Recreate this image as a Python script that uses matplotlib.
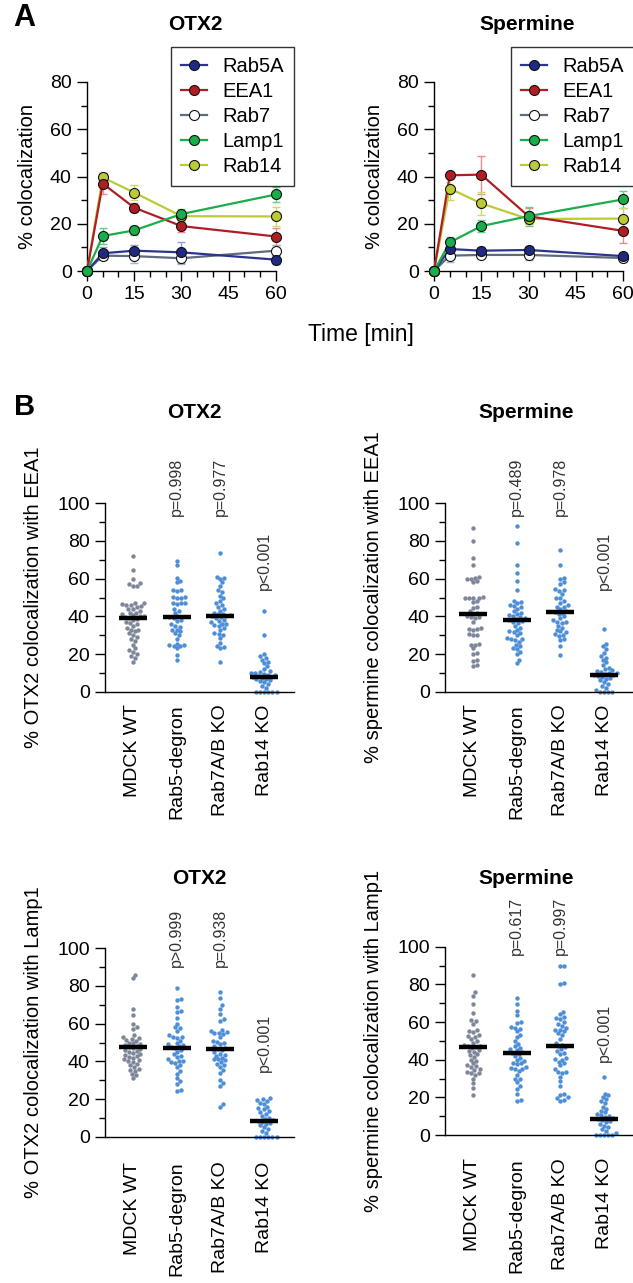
import numpy as np
import matplotlib.pyplot as plt
from matplotlib.lines import Line2D
from matplotlib.ticker import MultipleLocator

plt.rcParams.update({
    "font.family": ["Liberation Sans", "DejaVu Sans"],
    "axes.linewidth": 1.0,
    "xtick.major.width": 1.0,
    "ytick.major.width": 1.0,
    "xtick.minor.width": 1.0,
    "ytick.minor.width": 1.0,
})

# ── Panel A data: mean % colocalization over time ──────────────────────────
time_min = [0, 5, 15, 30, 60]
markers = ["Rab5A", "EEA1", "Rab7", "Lamp1", "Rab14"]

otx2_mean = [
    [0, 7.5, 8.6, 7.9, 4.8],
    [0, 37.0, 26.8, 19.0, 14.6],
    [0, 6.5, 6.3, 5.4, 8.6],
    [0, 14.8, 17.2, 24.1, 32.4],
    [0, 39.6, 33.2, 23.2, 23.1],
]
otx2_err = [
    [0, 2.5, 2.5, 4.5, 2.0],
    [0, 4.5, 2.0, 2.5, 3.5],
    [0, 2.0, 2.8, 2.5, 2.5],
    [0, 3.5, 2.0, 2.0, 3.0],
    [0, 2.0, 3.0, 2.0, 4.0],
]
spermine_mean = [
    [0, 9.3, 8.6, 8.9, 6.3],
    [0, 40.5, 40.8, 23.2, 17.0],
    [0, 6.5, 6.8, 6.8, 5.5],
    [0, 12.1, 19.0, 23.2, 30.3],
    [0, 34.9, 28.6, 22.0, 22.2],
]
spermine_err = [
    [0, 3.0, 1.5, 1.5, 1.5],
    [0, 1.0, 8.0, 3.5, 5.0],
    [0, 2.5, 1.5, 2.0, 1.5],
    [0, 2.5, 2.5, 4.0, 3.5],
    [0, 5.0, 5.0, 2.0, 4.5],
]

line_colors = ["#2b3590", "#b01e24", "#5d6b7c", "#1aad4b", "#bccb35"]
face_colors = ["#1f2b80", "#b01e24", "#ffffff", "#1aad4b", "#bccb35"]
err_colors = ["#8f9fd6", "#f08a8f", "#a9b2c0", "#66cf86", "#cdd96a"]

# ── Panel B data: per-cell % colocalization ───────────────────────────────
groups = ["MDCK WT", "Rab5-degron", "Rab7A/B KO", "Rab14 KO"]

otx2_eea1 = [
    [72, 64.5, 60, 57.5, 57, 56, 56, 47, 47, 46.5, 46, 46, 45.5, 45, 44, 44,
     43, 42, 42, 41, 40.5, 40, 40, 39.5, 39, 38.5, 38, 37, 36.5, 36, 35, 34,
     33, 33, 32, 31, 30, 29, 28, 27, 25, 23, 22, 21, 20, 19, 18, 16],
    [69.5, 67, 60.5, 59, 58, 54, 54, 53.5, 50.5, 50.5, 50, 50, 47, 47, 47,
     46.5, 44, 43, 42, 40, 39.5, 39, 38, 37.5, 36, 35, 34.5, 33, 32.5, 32, 31,
     30, 28, 25.5, 25, 25, 24.5, 24, 23, 19.5, 17],
    [73.5, 61, 60.5, 60, 58, 56, 54, 53, 51, 49.5, 48, 47, 46, 45, 44, 43, 42,
     41.5, 41, 40.5, 40, 40, 39.5, 39, 38, 37.5, 37, 36, 36, 35.5, 35, 34, 33,
     31, 30.5, 30, 28.5, 26, 24, 23.5, 23, 15.5],
    [43, 30, 20, 19, 18, 17, 16, 15, 13.5, 12, 11, 10.5, 10, 10, 9.5, 9, 9,
     8.5, 8, 8, 7.5, 7, 6.5, 6, 5.5, 5, 4, 3, 2, 0, 0, 0, 0, 0, 0],
]
otx2_eea1_bar = [39.3, 39.8, 40.0, 7.9]
otx2_eea1_p = ["", "p=0.998", "p=0.977", "p<0.001"]

spermine_eea1 = [
    [87, 80, 71, 67, 61, 60.5, 60, 60, 58.5, 58, 50.5, 50, 50, 50, 50, 48,
     47.5, 45, 44.5, 43, 42, 41.5, 40, 39.5, 39.5, 39, 37, 34, 33.5, 33.5, 33,
     30.5, 30, 30, 25.5, 25, 25, 23, 20.5, 20, 17, 16.5, 14, 13.5],
    [88, 79, 67, 63, 58.5, 54, 48, 47.5, 47, 46, 45.5, 45, 44, 43, 42, 41.5,
     40.5, 40, 39.5, 39, 38.5, 38, 37.5, 37, 36.5, 35, 34, 33, 32, 31.5, 31,
     30, 28.5, 28, 28, 27.5, 26.5, 25, 24, 23, 22.5, 21, 20, 17, 15],
    [75, 67, 60.5, 60, 58, 57, 54.5, 54, 53.5, 52, 50, 50, 48, 47, 46, 45, 45,
     44, 43, 42.5, 42, 41, 40, 39, 38, 37, 37, 36.5, 35, 34, 33, 32, 31.5,
     30.5, 30, 29.5, 28, 27.5, 24.5, 19.5],
    [33.5, 25.5, 24, 22.5, 20.5, 19, 18, 17, 15.5, 14, 12.5, 12, 11.5, 11,
     10.5, 10, 10, 9.5, 9, 9, 8.5, 8, 7.5, 7, 6, 5, 4, 3, 2, 1, 0, 0, 0, 0],
]
spermine_eea1_bar = [41.5, 38.0, 42.5, 9.0]
spermine_eea1_p = ["", "p=0.489", "p=0.978", "p<0.001"]

otx2_lamp1 = [
    [86, 84, 68, 64.5, 60, 58, 57, 54, 53, 52.5, 52, 51.5, 51, 50, 49.5, 49,
     48.5, 48, 47.5, 47, 46.5, 46, 45.5, 45, 44.5, 44, 43.5, 43, 42.5, 42, 41,
     40.5, 40, 39.5, 38.5, 38, 37, 36, 35.5, 35, 33.5, 32.5, 31],
    [79, 73, 72.5, 69, 66.5, 66, 63, 60, 58, 57.5, 56, 54, 53, 53, 52.5, 51,
     50, 49, 48.5, 48, 47.5, 47, 46, 45, 44, 43, 42.5, 41, 40, 40, 39.5, 39,
     38, 37, 35, 33.5, 31, 29.5, 28, 25, 24.5],
    [77, 73.5, 70, 68, 65, 62.5, 61.5, 56.5, 56, 55.5, 55, 55, 54.5, 53, 51,
     50.5, 50, 49, 48, 47, 46.5, 46, 45, 44, 43.5, 43, 42, 41, 41, 40.5, 39.5,
     38.5, 38, 37, 35.5, 34, 30, 28.5, 27, 17.5, 16],
    [20.5, 20, 19.5, 19, 18, 17.5, 16, 15, 14.5, 13.5, 13, 12, 11, 10, 9.5,
     9, 8.5, 8, 7.5, 7, 6, 5, 4, 3, 2, 0, 0, 0, 0, 0, 0],
]
otx2_lamp1_bar = [47.5, 47.0, 46.5, 8.5]
otx2_lamp1_p = ["", "p>0.999", "p=0.938", "p<0.001"]

spermine_lamp1 = [
    [85, 76, 74, 69.5, 65, 61, 60.5, 59, 55.5, 55, 54.5, 53, 52.5, 52, 51, 50,
     49, 48, 47.5, 47, 46.5, 46, 45, 44.5, 44, 43, 42.5, 41.5, 40, 39.5, 38,
     37, 36.5, 36, 35, 34.5, 33.5, 33, 33, 32, 30, 27.5, 25, 21.5],
    [73, 69.5, 66, 63.5, 60, 59.5, 57.5, 57, 56.5, 55, 53, 52, 50, 48.5, 47,
     46, 45.5, 45, 44, 43.5, 43, 42, 41, 40, 39.5, 38.5, 38, 37.5, 36, 35.5,
     35, 35, 34, 32, 30, 29.5, 28, 26, 24.5, 22, 18.5, 18],
    [90, 89.5, 80.5, 80, 65.5, 64, 62.5, 62, 61.5, 60, 59, 58, 57, 56, 55.5,
     55, 54, 53, 51, 49, 48, 47, 46.5, 45.5, 44.5, 43.5, 43, 41, 40.5, 40, 39,
     38, 37, 35, 33.5, 33.5, 33, 31, 28.5, 26, 22, 21.5, 20, 19.5, 18.5, 18],
    [31, 22, 21, 20, 19, 18, 17, 15, 14, 13, 12, 11, 10.5, 10, 9.5, 9, 8.5,
     8, 7.5, 7, 6, 5, 4, 3, 2, 1, 0, 0, 0, 0, 0],
]
spermine_lamp1_bar = [46.5, 43.5, 47.0, 8.5]
spermine_lamp1_p = ["", "p=0.617", "p=0.997", "p<0.001"]

W, H = 633, 1283
fig = plt.figure(figsize=(W / 100, H / 100), dpi=100)


def add_axes_px(left, top, right, bottom):
    return fig.add_axes([left / W, 1 - bottom / H, (right - left) / W,
                         (bottom - top) / H])


def fig_text(x, y, s, **kw):
    fig.text(x / W, 1 - y / H, s, **kw)


def swarm_offsets(vals, sx, sy, d):
    # simple beeswarm: place points (low to high) as close to centre as possible
    vals = np.asarray(vals, float)
    xs = np.zeros(len(vals))
    placed = []
    for i in np.argsort(vals, kind="stable"):
        y = vals[i] * sy
        cands = [0.0]
        for px, py in placed:
            dy = y - py
            if abs(dy) < d:
                dx = np.sqrt(d * d - dy * dy)
                cands += [px + dx, px - dx]
        cands.sort(key=abs)
        for c in cands:
            if all((c - px) ** 2 + (y - py) ** 2 >= d * d - 1e-6
                   for px, py in placed):
                xs[i] = c
                placed.append((c, y))
                break
    return xs / sx


# ── Panel A ──────────────────────────────────────────────────────────────
panel_a = [
    ("OTX2", otx2_mean, otx2_err, (87, 82, 276, 271), (195, 25), 171),
    ("Spermine", spermine_mean, spermine_err, (434, 82, 623, 271), (527, 25), 511),
]
for title, means, errs, box, tpos, leg_x in panel_a:
    ax = add_axes_px(*box)
    for k in range(len(markers)):
        ax.errorbar(time_min, means[k], yerr=errs[k], fmt="none",
                    ecolor=err_colors[k], elinewidth=1.0, capsize=3,
                    capthick=1.0, zorder=2, clip_on=False)
    for k in [4, 2, 0, 1, 3]:
        ax.plot(time_min, means[k], color=line_colors[k], lw=1.6, zorder=3,
                clip_on=False)
        ax.plot(time_min, means[k], ls="none", marker="o", ms=7.2,
                mfc=face_colors[k], mec="#111111", mew=0.8, zorder=4,
                clip_on=False)
    ax.set_xlim(0, 60)
    ax.set_ylim(0, 80)
    ax.xaxis.set_major_locator(MultipleLocator(15))
    ax.xaxis.set_minor_locator(MultipleLocator(5))
    ax.yaxis.set_major_locator(MultipleLocator(20))
    ax.yaxis.set_minor_locator(MultipleLocator(10))
    ax.tick_params(which="major", length=7, labelsize=14, pad=4)
    ax.tick_params(which="minor", length=4)
    for sp in ["top", "right"]:
        ax.spines[sp].set_visible(False)
    ax.set_ylabel("% colocalization", fontsize=14.5, labelpad=9)
    fig_text(*tpos, title, ha="center", va="center", fontsize=15,
             fontweight="bold")
    handles = [Line2D([0], [0], color=line_colors[k], lw=1.6, marker="o",
                      ms=7.2, mfc=face_colors[k], mec="#111111", mew=0.8)
               for k in range(len(markers))]
    leg = ax.legend(handles, markers, loc="upper left",
                    bbox_to_anchor=(leg_x / W, 1 - 47 / H),
                    bbox_transform=fig.transFigure, frameon=True,
                    fancybox=False, edgecolor="black", fontsize=14.5,
                    handlelength=1.3, handletextpad=0.75, labelspacing=0.3,
                    borderpad=0.5, borderaxespad=0)
    leg.get_frame().set_linewidth(1.0)

fig_text(361, 334, "Time [min]", ha="center", va="center", fontsize=16.5)
fig_text(24, 18, "A", ha="center", va="center", fontsize=22, fontweight="bold")
fig_text(25, 407, "B", ha="center", va="center", fontsize=21, fontweight="bold")

# ── Panel B ──────────────────────────────────────────────────────────────
panel_b = [
    ("OTX2", "% OTX2 colocalization with EEA1", otx2_eea1, otx2_eea1_bar,
     otx2_eea1_p, (105, 503.3, 294, 691.7), (194, 413), [0, 93, 93, 54], 9),
    ("Spermine", "% spermine colocalization with EEA1", spermine_eea1,
     spermine_eea1_bar, spermine_eea1_p, (445, 503.3, 633, 691.7), (526, 413),
     [0, 93, 93, 54], 9),
    ("OTX2", "% OTX2 colocalization with Lamp1", otx2_lamp1, otx2_lamp1_bar,
     otx2_lamp1_p, (105, 948.3, 294, 1136.7), (199, 878), [0, 90, 90, 34.5], 18),
    ("Spermine", "% spermine colocalization with Lamp1", spermine_lamp1,
     spermine_lamp1_bar, spermine_lamp1_p, (445, 946.7, 633, 1135), (526, 878),
     [0, 95.5, 95.5, 39], 16.5),
]
dot_colors = ["#7d8799", "#4d8fd6", "#4d8fd6", "#4d8fd6"]

for title, ylab, data, bars, pvals, box, tpos, p_y, xpad in panel_b:
    ax = add_axes_px(*box)
    x0 = -0.64
    x1 = x0 + (box[2] - box[0]) / 43.7
    ax.set_xlim(x0, x1)
    ax.set_ylim(0, 100)
    sx = 43.7
    sy = (box[3] - box[1]) / 100.0
    for g, vals in enumerate(data):
        off = swarm_offsets(vals, sx, sy, 4.2)
        ax.scatter(g + off, vals, s=10, color=dot_colors[g], lw=0,
                   zorder=2, clip_on=False)
        ax.plot([g - 0.32, g + 0.32], [bars[g], bars[g]], color="black",
                lw=3.2, solid_capstyle="butt", zorder=3)
        if pvals[g]:
            ax.text(g, p_y[g], pvals[g], rotation=90, ha="center",
                    va="bottom", fontsize=11.5, color="#333333")
    ax.set_xticks(range(len(groups)))
    ax.set_xticklabels(groups, rotation=90, fontsize=14)
    ax.tick_params(axis="x", length=0, pad=xpad)
    ax.yaxis.set_major_locator(MultipleLocator(20))
    ax.yaxis.set_minor_locator(MultipleLocator(10))
    ax.tick_params(axis="y", which="major", length=7, labelsize=14, pad=4)
    ax.tick_params(axis="y", which="minor", length=4)
    for sp in ["top", "right"]:
        ax.spines[sp].set_visible(False)
    ax.set_ylabel(ylab, fontsize=14.5, labelpad=10)
    fig_text(*tpos, title, ha="center", va="center", fontsize=15,
             fontweight="bold")

fig.savefig("out.png", dpi=100)
